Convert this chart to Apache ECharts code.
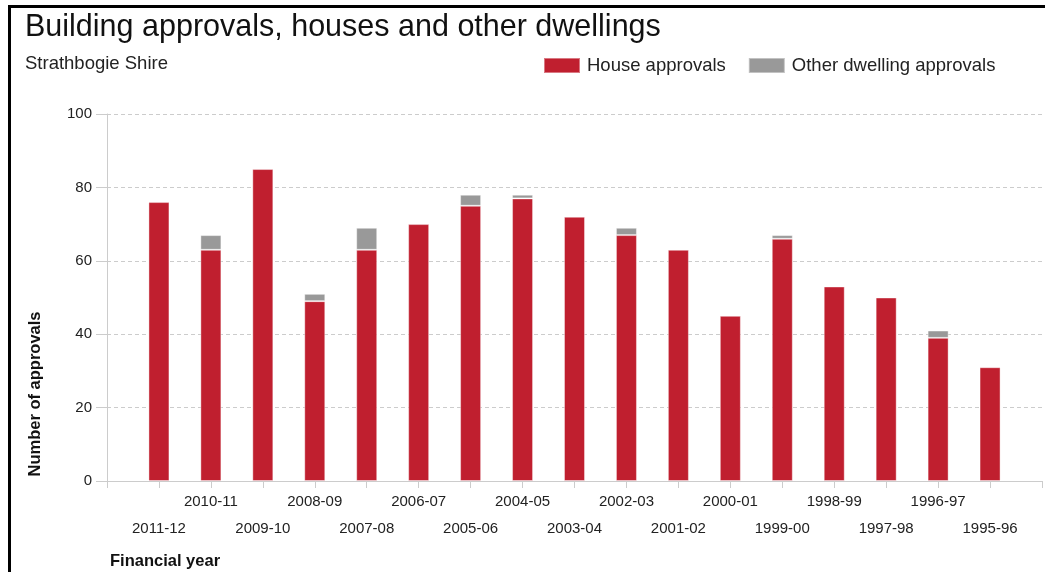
<!DOCTYPE html>
<html>
<head>
<meta charset="utf-8">
<script src="https://cdn.jsdelivr.net/npm/echarts@6/dist/echarts.min.js"></script>
<style>
  html, body { margin: 0; padding: 0; background: #fff; }
  #chart { width: 1045px; height: 572px; }
</style>
</head>
<body>
<div id="chart"></div>
<script>
// Financial years, newest first
const categories = ['2011-12', '2010-11', '2009-10', '2008-09', '2007-08', '2006-07', '2005-06', '2004-05',
  '2003-04', '2002-03', '2001-02', '2000-01', '1999-00', '1998-99', '1997-98', '1996-97', '1995-96'];
// Approvals per year
const houseApprovals = [76, 63, 85, 49, 63, 70, 75, 77, 72, 67, 63, 45, 66, 53, 50, 39, 31];
const otherDwellingApprovals = [0, 4, 0, 2, 6, 0, 3, 1, 0, 2, 0, 0, 1, 0, 0, 2, 0];
const yTicks = [0, 20, 40, 60, 80, 100];

const FONT = '"Liberation Sans", Arial, sans-serif';

// Axis points run from an empty slot before the first year to one after the last
const axisData = [''].concat(categories, ['']);
const pad = arr => ['-'].concat(arr.map(v => (v === 0 ? '-' : v)), ['-']);

const chart = echarts.init(document.getElementById('chart'), null, { renderer: 'canvas' });

chart.setOption({
  animation: false,
  backgroundColor: '#fff',
  textStyle: { fontFamily: FONT },
  title: {
    text: 'Building approvals, houses and other dwellings',
    subtext: 'Strathbogie Shire',
    left: 20,
    top: 7,
    itemGap: 11,
    textStyle: { fontFamily: FONT, fontSize: 30.5, fontWeight: 'normal', color: '#111' },
    subtextStyle: { fontFamily: FONT, fontSize: 18.5, color: '#222' }
  },
  legend: {
    left: 538,
    top: 51,
    itemWidth: 36,
    itemHeight: 15,
    itemGap: 22,
    icon: 'rect',
    textStyle: { fontFamily: FONT, fontSize: 18.5, color: '#222', padding: [0, 0, 0, 2] },
    data: ['House approvals', 'Other dwelling approvals']
  },
  grid: { left: 107, right: 3, top: 114, bottom: 91, containLabel: false },
  xAxis: {
    type: 'category',
    data: axisData,
    boundaryGap: false,
    axisLine: { lineStyle: { color: '#cccccc', width: 1 } },
    axisTick: { interval: 0, length: 7, lineStyle: { color: '#cccccc' } },
    axisLabel: {
      interval: 0,
      margin: 7,
      fontFamily: FONT,
      fontSize: 15,
      color: '#222',
      lineHeight: 27,
      formatter: (value, index) => (value === '' ? '' : (index % 2 === 1 ? '\n' + value : value))
    },
    splitLine: { show: false }
  },
  yAxis: {
    type: 'value',
    min: yTicks[0],
    max: yTicks[yTicks.length - 1],
    interval: 20,
    axisLine: { show: true, lineStyle: { color: '#cccccc' } },
    axisTick: { show: true, length: 11, lineStyle: { color: '#cccccc' } },
    axisLabel: { margin: 15, fontFamily: FONT, fontSize: 15, color: '#222' },
    splitLine: { lineStyle: { color: '#cccccc', type: [4, 3] } }
  },
  graphic: [
    {
      type: 'rect',
      silent: true,
      shape: { x: 9.5, y: 6.5, width: 1200, height: 800 },
      style: { fill: 'none', stroke: '#000', lineWidth: 3 }
    },
    {
      type: 'text',
      silent: true,
      x: 35,
      y: 394,
      rotation: Math.PI / 2,
      style: {
        text: 'Number of approvals',
        fontFamily: FONT,
        fontSize: 16.5,
        fontWeight: 'bold',
        fill: '#111',
        align: 'center',
        verticalAlign: 'middle'
      }
    },
    {
      type: 'text',
      silent: true,
      x: 110,
      y: 561,
      style: {
        text: 'Financial year',
        fontFamily: FONT,
        fontSize: 16.5,
        fontWeight: 'bold',
        fill: '#111',
        align: 'left',
        verticalAlign: 'middle'
      }
    }
  ],
  series: [
    {
      name: 'House approvals',
      type: 'bar',
      stack: 'approvals',
      barWidth: 21,
      data: pad(houseApprovals),
      itemStyle: { color: '#c01f2f', borderColor: 'rgba(255,255,255,0.4)', borderWidth: 1 }
    },
    {
      name: 'Other dwelling approvals',
      type: 'bar',
      stack: 'approvals',
      barWidth: 21,
      data: pad(otherDwellingApprovals),
      itemStyle: { color: '#999999', borderColor: 'rgba(255,255,255,0.4)', borderWidth: 1 }
    }
  ]
});
</script>
</body>
</html>
